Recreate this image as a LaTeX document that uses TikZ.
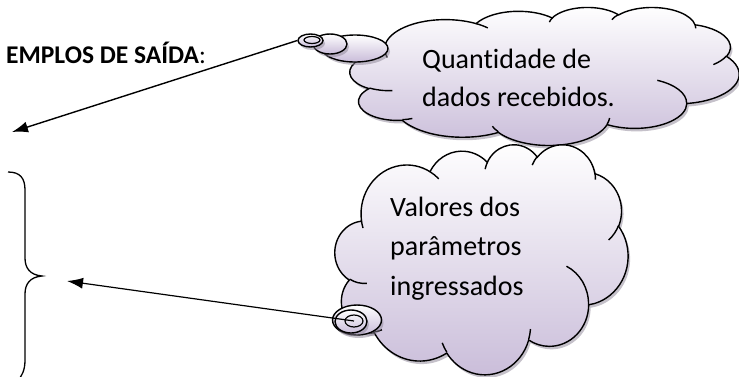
\documentclass[tikz,border=0pt]{standalone}
\usepackage{fontspec}
\setmainfont{Carlito}[Ligatures=NoCommon]
\usetikzlibrary{shapes.geometric,shadows,arrows.meta}
\definecolor{cloudlav}{RGB}{201,188,217}
\definecolor{shadowgray}{RGB}{140,132,150}
\newcommand\oa[4]{arc[x radius=#1, y radius=#2, start angle={vang(#3,#1,#2)}, delta angle={dfun(#3,#4,#1,#2)}]}
\newcommand\cloudbody{%
  (39.00,143.70) \oa{67.53}{91.90}{-190.4875}{123.7805}
  \oa{53.33}{72.67}{-144.1024}{89.9452}
  \oa{43.65}{59.45}{-145.8079}{99.7230}
  \oa{48.57}{65.95}{-130.9861}{117.2417}
  \oa{53.33}{72.73}{-78.7089}{109.0269}
  \oa{67.75}{92.20}{-46.2673}{130.2690}
  \oa{57.85}{78.67}{0.6250}{114.0333}
  \oa{67.52}{92.15}{22.4516}{115.1726}
  \oa{77.20}{105.43}{66.2426}{75.7110}
  \oa{43.60}{59.18}{-274.9421}{146.7356}
  \oa{43.45}{59.45}{-246.8285}{152.5189} -- cycle}
\newcommand\cloudinner{%
  (46.93,261.77) \oa{43.45}{59.45}{86.7420}{26.4295}
  (69.28,348.99) \oa{43.60}{59.18}{73.6105}{11.4475}
  (164.78,390.90) \oa{67.52}{92.15}{137.6242}{14.0811}
  (288.27,347.51) \oa{67.52}{92.15}{6.4533}{15.9984}
  (341.29,229.54) \oa{57.85}{78.67}{-70.2924}{70.9174}
  (417.98,153.54) \oa{53.33}{72.73}{30.3180}{27.7515}
  (383.24,54.26) \oa{48.57}{65.95}{-13.7443}{14.8589}
  (290.78,39.52) \oa{48.57}{65.95}{-149.1815}{18.1954}
  (221.41,47.20) \oa{43.65}{59.45}{-163.4943}{17.6864}
  (140.00,51.92) \oa{67.53}{91.90}{-66.7070}{12.3194}
  (41.27,157.89) \oa{67.53}{91.90}{157.6544}{11.8582}}
\begin{document}
\begin{tikzpicture}[x=1pt,y=-1pt,
  declare function={vang(\a,\w,\h)=atan2(\w*sin(\a),\h*cos(\a));
    dfun(\a,\s,\w,\h)=vang(\a+\s,\w,\h)-vang(\a,\w,\h)-360*round((vang(\a+\s,\w,\h)-vang(\a,\w,\h)-\s)/360);},
  cloudfill/.style={draw=black, line width=1.4pt, top color=white, bottom color=cloudlav,
    drop shadow={shadow xshift=2pt, shadow yshift=-3pt, fill=shadowgray}},
  bubble/.style={ellipse, inner sep=0, cloudfill},
  conn/.style={line width=1.4pt, -{Latex[length=16pt,width=11pt]}},
  cloudtext/.style={anchor=base west, inner sep=0, font=\fontsize{28}{34}\selectfont},
  inarc/.style={line width=1.4pt}]
\useasboundingbox (0,0) rectangle (739,376);

% title
\node[anchor=base west, inner sep=0, font=\fontsize{25.5}{30}\selectfont] (title) at (6,63) {\textbf{EMPLOS DE SAÍDA}:};

% cloud 1
\begin{scope}[shift={(350,7)}, x={(0.9005pt,0pt)}, y={(0pt,-0.31944pt)}]
  \path[cloudfill] \cloudbody;
  \draw[inarc] \cloudinner;
\end{scope}
\node[bubble, minimum width=66pt, minimum height=27pt] (t1c) at (355,48.5) {};
\node[bubble, minimum width=34pt, minimum height=20pt] (t1b) at (330,44) {};
\node[bubble, minimum width=25pt, minimum height=13pt] (t1a) at (310.5,40.5) {};
\node[ellipse, draw, line width=1.2pt, inner sep=0, minimum width=16pt, minimum height=7pt] (t1i) at (312,40) {};
\node[cloudtext] (q1) at (422,68) {Quantidade de};
\node[cloudtext] (q2) at (422,106) {dados recebidos.};

% cloud 2
\begin{scope}[shift={(335,144)}, x={(0.6782pt,0pt)}, y={(0pt,-0.5324pt)}]
  \path[cloudfill] \cloudbody;
  \draw[inarc] \cloudinner;
\end{scope}
\node[bubble, minimum width=49pt, minimum height=30pt] (t2b) at (357,320) {};
\node[bubble, minimum width=32pt, minimum height=23pt] (t2a) at (351,321.5) {};
\node[ellipse, draw, line width=1.2pt, inner sep=0, minimum width=18pt, minimum height=12pt] (t2i) at (354,321) {};
\node[cloudtext] (v1) at (390,216) {Valores dos};
\node[cloudtext] (v2) at (390,255.5) {parâmetros};
\node[cloudtext] (v3) at (390,295) {ingressados};

% arrows
\coordinate (a1) at (12,132);
\coordinate (a2) at (67,281);
\draw[conn] (t1a.west) -- (a1);
\draw[conn, line width=1.2pt] (t2i.center) -- (a2);

% brace
\draw[line width=1.3pt] (8,172) .. controls (20,172) and (25,178) .. (25,190) -- (25,258)
  .. controls (25,268) and (30,275) .. (42,276)
  .. controls (30,277) and (25,284) .. (25,294) -- (25,360)
  .. controls (25,370) and (22,376) .. (18,380);
\end{tikzpicture}
\end{document}
